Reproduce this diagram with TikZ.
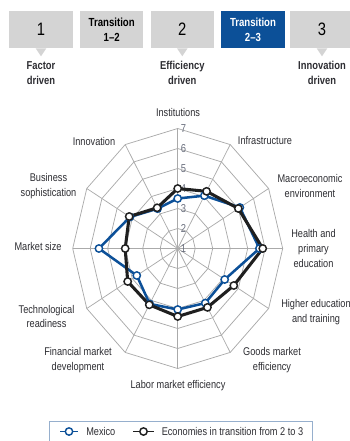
\documentclass[tikz,border=0pt]{standalone}
\usepackage{fontspec}
\setmainfont{Liberation Sans}[FakeStretch=0.82]
\definecolor{wefblue}{RGB}{12,80,152}
\definecolor{boxgrey}{RGB}{212,212,212}
\definecolor{gridgrey}{RGB}{170,170,170}
\definecolor{labelgrey}{RGB}{45,45,50}
\definecolor{tickgrey}{RGB}{105,110,125}
\definecolor{frameblue}{RGB}{150,175,205}

\begin{document}
\begin{tikzpicture}[x=0.75pt,y=0.75pt,yscale=-1,xscale=1,
  stagebox/.style={fill=boxgrey,minimum width=47.5pt,minimum height=27.75pt,inner sep=0pt,align=center},
  stagenum/.style={stagebox,font=\fontsize{13.5}{14}\selectfont},
  stagetrans/.style={stagebox,font=\bfseries\fontsize{8.8}{11.2}\selectfont},
  stagelabel/.style={align=center,inner sep=0pt,font=\bfseries\fontsize{8.6}{10.7}\selectfont,text=labelgrey},
  axislabel/.style={align=center,inner sep=0pt,font=\fontsize{8.4}{11.2}\selectfont,text=labelgrey},
  scalelabel/.style={anchor=west,inner sep=0pt,font=\fontsize{8.6}{10}\selectfont,text=tickgrey},
  gridline/.style={draw=gridgrey,line width=0.55pt},
  mexline/.style={draw=wefblue,line width=1.9pt,line join=round},
  transline/.style={draw=black!88,line width=2.3pt,line join=round},
  mexdot/.style={circle,draw=wefblue,fill=white,line width=1.1pt,minimum size=5.5pt,inner sep=0pt},
  transdot/.style={circle,draw=black!88,fill=white,line width=1.1pt,minimum size=5.5pt,inner sep=0pt},
  legendtext/.style={anchor=west,inner sep=0pt,font=\fontsize{8.4}{10}\selectfont,text=labelgrey}]
\useasboundingbox (0,0) rectangle (349,441);

% stages of development
\node[stagenum] (s1) at (41,29.5) {1};
\node[stagetrans] (t12) at (111.7,29.5) {Transition\\1--2};
\node[stagenum] (s2) at (182.3,29.5) {2};
\node[stagetrans,fill=wefblue,text=white] (t23) at (253,29.5) {Transition\\2--3};
\node[stagenum] (s3) at (322,29.5) {3};
\foreach \s in {s1,s2,s3}
  \fill[boxgrey] ([xshift=-4pt]\s.south) -- ([xshift=4pt]\s.south) -- ([yshift=6pt]\s.south) -- cycle;
\node[stagelabel] (d1) at (41,73) {Factor\\driven};
\node[stagelabel] (d2) at (182.3,73) {Efficiency\\driven};
\node[stagelabel] (d3) at (322,73) {Innovation\\driven};

% radar grid, spoke 0 at top, clockwise
\begin{scope}[shift={(177.7,248.5)}]
  \foreach \v in {1,...,6}
    \draw[gridline] (0,{-20*\v}) \foreach \k in {1,...,11}{ -- ({17.5*\v*sin(30*\k)},{-20*\v*cos(30*\k)}) } -- cycle;
  \foreach \k in {0,...,11}
    \draw[gridline] (0,0) -- ({105*sin(30*\k)},{-120*cos(30*\k)});
  \foreach \v in {1,...,7}
    \node[scalelabel] (tick\v) at (3,{-20*(\v-1)}) {\v};
  % scores
  \foreach \val [count=\k from 0] in {3.5,4.05,5.1,5.67,4.1,4.15,4.05,4.2,3.7,5.5,4.15,3.3}
    \coordinate (mx\k) at ({17.5*(\val-1)*sin(30*\k)},{-20*(\val-1)*cos(30*\k)});
  \foreach \val [count=\k from 0] in {4.0,4.3,5.0,5.86,4.7,4.4,4.4,4.25,4.3,4.0,4.2,3.35}
    \coordinate (tr\k) at ({17.5*(\val-1)*sin(30*\k)},{-20*(\val-1)*cos(30*\k)});
\end{scope}

\draw[mexline] (mx0) \foreach \k in {1,...,11}{ -- (mx\k) } -- cycle;
\draw[transline] (tr0) \foreach \k in {1,...,11}{ -- (tr\k) } -- cycle;
\foreach \k in {0,...,11} \node[mexdot] (mxdot\k) at (mx\k) {};
\foreach \k in {0,...,11} \node[transdot] (trdot\k) at (tr\k) {};

% pillar names
\node[axislabel] (inst) at (178,112) {Institutions};
\node[axislabel] (infra) at (265,141) {Infrastructure};
\node[axislabel] (macro) at (310,186) {Macroeconomic\\environment};
\node[axislabel] (health) at (313.5,248.5) {Health and\\primary\\education};
\node[axislabel] (higher) at (316,312) {Higher education\\and training};
\node[axislabel] (goods) at (272,360.5) {Goods market\\efficiency};
\node[axislabel] (labor) at (178,386) {Labor market efficiency};
\node[axislabel] (fin) at (78,360.5) {Financial market\\development};
\node[axislabel] (tech) at (46.5,316.5) {Technological\\readiness};
\node[axislabel] (msize) at (38,246) {Market size};
\node[axislabel] (bus) at (48.5,186.5) {Business\\sophistication};
\node[axislabel] (innov) at (94,141) {Innovation};

% legend
\draw[draw=frameblue,line width=0.6pt] (49,446) -- (49,421) -- (312,421) -- (312,446);
\coordinate (lm1) at (60,431.5);
\coordinate (lm2) at (78,431.5);
\draw[mexline,line width=1.3pt] (lm1) -- (lm2) node[mexdot,midway] (lmdot) {};
\node[legendtext] (lmtext) at (86,431.5) {Mexico};
\coordinate (lt1) at (133,431.5);
\coordinate (lt2) at (154,431.5);
\draw[transline,line width=1.3pt] (lt1) -- (lt2) node[transdot,midway] (ltdot) {};
\node[legendtext] (lttext) at (161.5,431.5) {Economies in transition from 2 to 3};
\end{tikzpicture}
\end{document}
